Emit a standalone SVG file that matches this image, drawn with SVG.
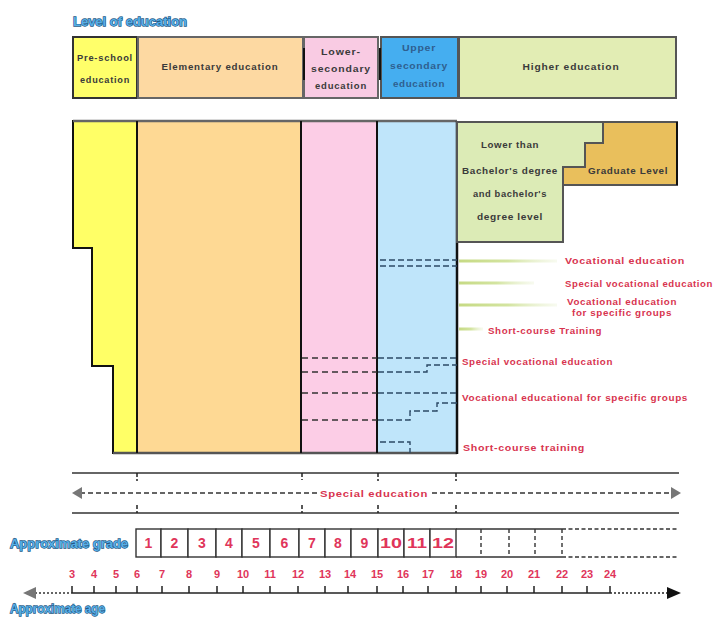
<svg xmlns="http://www.w3.org/2000/svg" width="721" height="617" viewBox="0 0 721 617">
<style>
text{font-family:"Liberation Sans",Arial,sans-serif;font-weight:bold}
.hd{font-size:9.5px;fill:#3a3a3a;text-anchor:middle;letter-spacing:0.8px}
.hdb{font-size:9px;fill:#2f5f8f;text-anchor:middle;letter-spacing:0.6px}
.gr{font-size:9.5px;fill:#3a3a3a;text-anchor:middle;letter-spacing:0.6px}
.red{font-size:9.5px;fill:#d8344f;letter-spacing:0.6px}
.blue{font-size:13px;fill:#56aee6;stroke:#1f5a86;stroke-width:1.3px;paint-order:stroke}
.num{font-size:14px;fill:#e0355a;text-anchor:middle}
.age{font-size:11px;fill:#e0355a;text-anchor:middle}
.sep{stroke:#111;stroke-width:2}
.dash{stroke:#333;stroke-width:1.4;stroke-dasharray:6 4;fill:none}
.dashb{stroke:#2d4a66;stroke-width:1.4;stroke-dasharray:6 3;fill:none}
.box{fill:#fff;stroke:#333;stroke-width:1.4}
.tick{stroke:#222;stroke-width:1.5}
</style>
<defs>
<linearGradient id="fade" x1="0" y1="0" x2="1" y2="0">
<stop offset="0" stop-color="#c6da84"/>
<stop offset="0.5" stop-color="#d3e4a0"/>
<stop offset="1" stop-color="#e6efcc" stop-opacity="0.3"/>
</linearGradient>
</defs>
<rect width="721" height="617" fill="#fff"/>

<text id="title" class="blue" x="73" y="26" textLength="114" lengthAdjust="spacingAndGlyphs">Level of education</text>

<g id="header">
<g id="h-preschool"><rect x="73" y="37" width="64" height="61" fill="#ffff6a" stroke="#333" stroke-width="2"/>
<text class="hd" x="105" y="61" textLength="56" lengthAdjust="spacingAndGlyphs">Pre-school</text>
<text class="hd" x="105" y="83" textLength="50" lengthAdjust="spacingAndGlyphs">education</text></g>
<g id="h-elementary"><rect x="138" y="37" width="165" height="61" fill="#fdd9a2" stroke="#666" stroke-width="2"/>
<text class="hd" x="220" y="70" textLength="117" lengthAdjust="spacingAndGlyphs">Elementary education</text></g>
<g id="h-lower"><rect x="304" y="37" width="74" height="61" fill="#f9cbe3" stroke="#666" stroke-width="2"/>
<line x1="304" y1="48" x2="304" y2="80" class="sep"/>
<text class="hd" x="341" y="55" textLength="40" lengthAdjust="spacingAndGlyphs">Lower-</text>
<text class="hd" x="341" y="72" textLength="60" lengthAdjust="spacingAndGlyphs">secondary</text>
<text class="hd" x="341" y="89" textLength="52" lengthAdjust="spacingAndGlyphs">education</text></g>
<g id="h-upper"><rect x="381" y="37" width="77" height="61" fill="#45aef0" stroke="#555" stroke-width="2"/>
<line x1="380" y1="48" x2="380" y2="80" class="sep"/>
<text class="hdb" x="419" y="51" textLength="34" lengthAdjust="spacingAndGlyphs">Upper</text>
<text class="hdb" x="419" y="69" textLength="58" lengthAdjust="spacingAndGlyphs">secondary</text>
<text class="hdb" x="419" y="87" textLength="52" lengthAdjust="spacingAndGlyphs">education</text></g>
<g id="h-higher"><rect x="459" y="37" width="217" height="61" fill="#e2edb4" stroke="#555" stroke-width="2"/>
<text class="hd" x="571" y="70" textLength="97" lengthAdjust="spacingAndGlyphs">Higher education</text></g>
</g>

<g id="body">
<g id="b-preschool"><path d="M73,121 H137 V453 H113 V366 H92 V248 H73 Z" fill="#ffff66" stroke="#111" stroke-width="2"/></g>
<g id="b-elementary"><rect x="137" y="121" width="164" height="332" fill="#fed994"/></g>
<g id="b-lower"><rect x="301" y="121" width="76" height="332" fill="#fccde6"/></g>
<g id="b-upper"><rect x="377" y="121" width="80" height="332" fill="#bfe5fa"/></g>
<line x1="73" y1="121" x2="457" y2="121" stroke="#666" stroke-width="2.5"/>
<line x1="113" y1="453" x2="457" y2="453" stroke="#555" stroke-width="2.5"/>
<line x1="137" y1="121" x2="137" y2="453" class="sep"/>
<line x1="301" y1="121" x2="301" y2="453" class="sep"/>
<line x1="377" y1="121" x2="377" y2="453" class="sep"/>
<line x1="457" y1="121" x2="457" y2="454" stroke="#111" stroke-width="2.5"/>
<g id="b-higher"><path d="M457,122 H603 V143 H585 V167 H563 V242 H457 Z" fill="#dcebb6" stroke="#555" stroke-width="2"/>
<text class="gr" x="510" y="148" textLength="58" lengthAdjust="spacingAndGlyphs">Lower than</text>
<text class="gr" x="510" y="174" textLength="96" lengthAdjust="spacingAndGlyphs">Bachelor's degree</text>
<text class="gr" x="510" y="197" textLength="74" lengthAdjust="spacingAndGlyphs">and bachelor's</text>
<text class="gr" x="510" y="220" textLength="66" lengthAdjust="spacingAndGlyphs">degree level</text></g>
<g id="b-graduate"><path d="M603,122 H677 V185 H563 V167 H585 V143 H603 Z" fill="#e9bf5c" stroke="#555" stroke-width="2"/>
<line x1="677" y1="122" x2="677" y2="185" stroke="#111" stroke-width="2"/>
<text class="gr" x="628" y="174" textLength="80" lengthAdjust="spacingAndGlyphs">Graduate Level</text></g>
</g>

<g id="connectors">
<path class="dashb" d="M380,260 H457 M380,266 H457"/>
<path class="dash" d="M302,358 H377"/><path class="dashb" d="M378,358 H457"/>
<path class="dash" d="M302,372 H377"/><path class="dashb" d="M378,372 H427 V365 H457"/>
<path class="dash" d="M302,393 H377"/><path class="dashb" d="M378,393 H457"/>
<path class="dash" d="M302,420 H377"/><path class="dashb" d="M378,420 H410 V411 H437 V403 H457"/>
<path class="dashb" d="M380,442 H410 V453"/>
<rect x="459" y="259.5" width="98" height="3" fill="url(#fade)"/>
<rect x="459" y="281.5" width="75" height="3" fill="url(#fade)"/>
<rect x="459" y="303.5" width="98" height="3" fill="url(#fade)"/>
<rect x="459" y="327.5" width="24" height="3" fill="url(#fade)"/>
</g>

<g id="labels">
<text class="red" x="565" y="264" textLength="120" lengthAdjust="spacingAndGlyphs">Vocational education</text>
<text class="red" x="565" y="287" textLength="148" lengthAdjust="spacingAndGlyphs">Special vocational education</text>
<text class="red" x="567" y="305" textLength="110" lengthAdjust="spacingAndGlyphs">Vocational education</text>
<text class="red" x="572" y="316" textLength="100" lengthAdjust="spacingAndGlyphs">for specific groups</text>
<text class="red" x="488" y="334" textLength="114" lengthAdjust="spacingAndGlyphs">Short-course Training</text>
<text class="red" x="462" y="365" textLength="151" lengthAdjust="spacingAndGlyphs">Special vocational education</text>
<text class="red" x="462" y="401" textLength="226" lengthAdjust="spacingAndGlyphs">Vocational educational for specific groups</text>
<text class="red" x="463" y="451" textLength="122" lengthAdjust="spacingAndGlyphs">Short-course training</text>
</g>

<g id="special-education">
<line x1="72" y1="473" x2="679" y2="473" stroke="#666" stroke-width="2"/>
<line x1="72" y1="513" x2="679" y2="513" stroke="#666" stroke-width="2"/>
<path class="tick" d="M137,473 V481 M302,473 V480 M378,473 V481 M456,473 V481 M137,505 V513 M302,505 V513 M378,505 V513 M456,505 V513" stroke-dasharray="4 2"/>
<path d="M80,493 H672" stroke="#333" stroke-width="1.4" stroke-dasharray="5 3"/>
<path d="M72,493 L82,487 L82,499 Z" fill="#777"/>
<path d="M681,493 L671,487 L671,499 Z" fill="#777"/>
<rect x="318" y="486" width="112" height="14" fill="#fff"/>
<text class="red" x="320" y="497" textLength="108" lengthAdjust="spacingAndGlyphs">Special education</text>
</g>

<g id="grades">
<text class="blue" x="10" y="548" textLength="118" lengthAdjust="spacingAndGlyphs">Approximate grade</text>
<rect class="box" x="136" y="529" width="25" height="28"/>
<rect class="box" x="161" y="529" width="27" height="28"/>
<rect class="box" x="188" y="529" width="28" height="28"/>
<rect class="box" x="216" y="529" width="26" height="28"/>
<rect class="box" x="242" y="529" width="28" height="28"/>
<rect class="box" x="270" y="529" width="29" height="28"/>
<rect class="box" x="299" y="529" width="26" height="28"/>
<rect class="box" x="325" y="529" width="26" height="28"/>
<rect class="box" x="351" y="529" width="27" height="28"/>
<rect class="box" x="378" y="529" width="26" height="28"/>
<rect class="box" x="404" y="529" width="26" height="28"/>
<rect class="box" x="430" y="529" width="26" height="28"/>
<text class="num" x="148.5" y="548">1</text>
<text class="num" x="174.5" y="548">2</text>
<text class="num" x="202" y="548">3</text>
<text class="num" x="229" y="548">4</text>
<text class="num" x="256" y="548">5</text>
<text class="num" x="284.5" y="548">6</text>
<text class="num" x="312" y="548">7</text>
<text class="num" x="338" y="548">8</text>
<text class="num" x="364.5" y="548">9</text>
<text class="num" x="391" y="548" textLength="22" lengthAdjust="spacingAndGlyphs">10</text>
<text class="num" x="417" y="548" textLength="20" lengthAdjust="spacingAndGlyphs">11</text>
<text class="num" x="443" y="548" textLength="22" lengthAdjust="spacingAndGlyphs">12</text>
<path d="M456,529 H562 M456,557 H562" stroke="#333" stroke-width="1.4"/>
<path d="M481,529 V557 M509,529 V557 M535,529 V557 M562,529 V557" stroke="#333" stroke-width="1.4" stroke-dasharray="4 3"/>
<path d="M562,529 H678 M562,557 H678" stroke="#333" stroke-width="1.4" stroke-dasharray="4 2.5"/>
</g>

<g id="ages">
<text class="age" x="72" y="578">3</text>
<text class="age" x="94" y="578">4</text>
<text class="age" x="116" y="578">5</text>
<text class="age" x="137" y="578">6</text>
<text class="age" x="162" y="578">7</text>
<text class="age" x="189" y="578">8</text>
<text class="age" x="217" y="578">9</text>
<text class="age" x="243" y="578">10</text>
<text class="age" x="270" y="578">11</text>
<text class="age" x="298" y="578">12</text>
<text class="age" x="325" y="578">13</text>
<text class="age" x="350" y="578">14</text>
<text class="age" x="377" y="578">15</text>
<text class="age" x="403" y="578">16</text>
<text class="age" x="428" y="578">17</text>
<text class="age" x="456" y="578">18</text>
<text class="age" x="481" y="578">19</text>
<text class="age" x="507" y="578">20</text>
<text class="age" x="534" y="578">21</text>
<text class="age" x="562" y="578">22</text>
<text class="age" x="587" y="578">23</text>
<text class="age" x="610" y="578">24</text>
<line x1="72" y1="593" x2="610" y2="593" stroke="#222" stroke-width="1.6"/>
<path class="tick" d="M72,586 V593 M94,586 V593 M116,586 V593 M137,586 V593 M162,586 V593 M189,586 V593 M217,586 V593 M243,586 V593 M270,586 V593 M298,586 V593 M325,586 V593 M348,586 V593 M377,586 V593 M403,586 V593 M428,586 V593 M456,586 V593 M481,586 V593 M507,586 V593 M534,586 V593 M562,586 V593 M587,586 V593 M610,586 V593"/>
<path d="M610,593 H668" stroke="#222" stroke-width="1.5" stroke-dasharray="2 2"/>
<path d="M681,593 L667,587 L667,599 Z" fill="#111"/>
<path d="M35,593 H72" stroke="#333" stroke-width="1.5" stroke-dasharray="2 2"/>
<path d="M23,593 L36,587 L36,599 Z" fill="#777"/>
<text class="blue" x="10" y="613" textLength="95" lengthAdjust="spacingAndGlyphs">Approximate age</text>
</g>
</svg>
